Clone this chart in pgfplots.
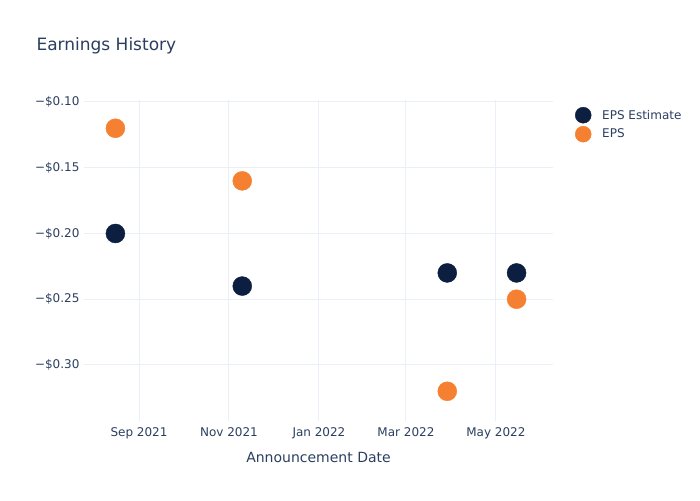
\documentclass[border=0pt]{standalone}
\usepackage{pgfplots}
\pgfplotsset{compat=1.18}
\usepackage{fontspec}
\setmainfont{DejaVu Sans}
\definecolor{txt}{HTML}{2A3F5F}
\definecolor{navy}{HTML}{0C1F40}
\definecolor{orng}{HTML}{F58031}
\definecolor{gridc}{HTML}{EBF0F8}
\begin{document}
\begin{tikzpicture}[x=1pt,y=1pt]
\path (0,0) rectangle (700,500);
\node[anchor=west,text=txt,font=\fontsize{17}{20}\selectfont] at (33,454) {Earnings History};
\begin{axis}[
  at={(84pt,79pt)}, anchor=south west,
  scale only axis, width=469pt, height=321pt,
  xmin=-37.3, xmax=280.7, ymin=-0.3426, ymax=-0.0985,
  axis line style={draw=none},
  major tick length=0pt,
  grid=major, grid style={gridc, line width=1pt},
  xtick={0,61,122,181,242},
  xticklabels={Sep 2021,Nov 2021,Jan 2022,Mar 2022,May 2022},
  ytick={-0.30,-0.25,-0.20,-0.15,-0.10},
  yticklabels={−\$0.30,−\$0.25,−\$0.20,−\$0.15,−\$0.10},
  ticklabel style={text=txt,font=\fontsize{12}{14}\selectfont},
  xticklabel style={yshift=-3pt},
  yticklabel style={xshift=-1pt},
  xlabel={Announcement Date},
  xlabel style={text=txt,font=\fontsize{14}{16}\selectfont, yshift=-6pt},
  legend image code/.code={\draw[#1, mark size=8pt] plot coordinates {(0pt,0pt)};},
  legend style={at={(1,1)}, anchor=north west, xshift=19pt, yshift=-5pt, draw=none, fill=none,
    font=\fontsize{12}{14}\selectfont, text=txt, row sep=3pt,
    /tikz/every odd column/.append style={column sep=9pt}},
  legend cell align=left,
  clip=false,
]
\addplot[only marks, mark=*, mark size=9.5pt, color=navy] coordinates {
(-16,-0.20) (70,-0.24) (209,-0.23) (256,-0.23)};
\addlegendentry{EPS Estimate}
\addplot[only marks, mark=*, mark size=9.5pt, color=orng] coordinates {
(-16,-0.12) (70,-0.16) (209,-0.32) (256,-0.25)};
\addlegendentry{EPS}
\end{axis}
\end{tikzpicture}
\end{document}
